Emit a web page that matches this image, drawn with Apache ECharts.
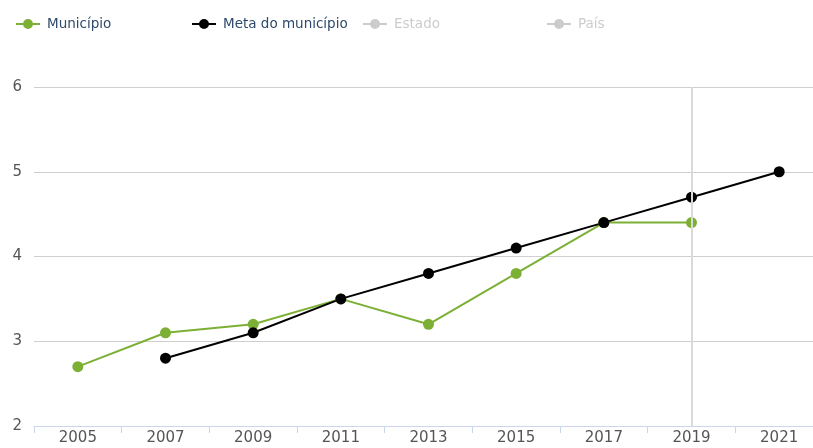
<!DOCTYPE html>
<html>
<head>
<meta charset="utf-8">
<script src="https://cdn.jsdelivr.net/npm/echarts@6/dist/echarts.min.js"></script>
<style>
  html, body { margin: 0; padding: 0; background: #fff; }
  #chart { width: 813px; height: 448px; }
</style>
</head>
<body>
<div id="chart"></div>
<script>
var anos = ['2005', '2007', '2009', '2011', '2013', '2015', '2017', '2019', '2021']
var municipio = [2.7, 3.1, 3.2, 3.5, 3.2, 3.8, 4.4, 4.4, null]
var metaMunicipio = [null, 2.8, 3.1, 3.5, 3.8, 4.1, 4.4, 4.7, 5.0]
var estado = []
var pais = []
var yTicks = [2, 3, 4, 5, 6]

var fonte = '"DejaVu Sans", sans-serif'
// linha com bolinha no meio, como no original
var iconeLinha = 'path://M0,4H24V6H0Z M7,5A5,5 0 1,1 17,5A5,5 0 1,1 7,5Z'

function legenda(nome, x) {
  return {
    data: [nome],
    left: x,
    top: 17,
    padding: 0,
    itemWidth: 24,
    itemHeight: 10,
    itemGap: 0,
    icon: iconeLinha,
    inactiveColor: '#cccccc',
    textStyle: { color: '#2e4a6b', fontSize: 13.5, fontFamily: fonte, padding: [0, 0, 0, 2] },
    selected: { 'Estado': false, 'País': false }
  }
}

function serie(nome, dados, cor) {
  return {
    name: nome,
    type: 'line',
    data: dados,
    symbol: 'circle',
    symbolSize: 11,
    connectNulls: false,
    lineStyle: { color: cor, width: 2 },
    itemStyle: { color: cor },
    emphasis: { disabled: true }
  }
}

var ele = document.getElementById('chart')
var myChart = echarts.init(ele, null, { renderer: 'canvas' })
var municipioSerie = serie('Município', municipio, '#7cb035')
municipioSerie.markLine = {
  silent: true,
  symbol: 'none',
  label: { show: false },
  lineStyle: { color: '#dadada', type: 'solid', width: 2 },
  data: [{ xAxis: '2019' }]
}

var option = {
  animation: false,
  legend: [
    legenda('Município', 16),
    legenda('Meta do município', 192),
    legenda('Estado', 363),
    legenda('País', 547)
  ],
  grid: { left: 34, width: 789, top: 87, bottom: 22, outerBoundsMode: 'none', containLabel: false },
  xAxis: {
    type: 'category',
    data: anos,
    boundaryGap: true,
    axisLine: { lineStyle: { color: '#ccd6eb', width: 1 } },
    axisTick: { show: true, length: 7, lineStyle: { color: '#ccd6eb' } },
    axisLabel: { color: '#555555', fontSize: 15, fontFamily: fonte, margin: 5 },
    splitLine: { show: false }
  },
  yAxis: {
    type: 'value',
    min: yTicks[0],
    max: yTicks[yTicks.length - 1],
    interval: 1,
    axisLine: { show: false },
    axisTick: { show: false },
    axisLabel: { color: '#555555', fontSize: 15, fontFamily: fonte, margin: 12, verticalAlign: 'middle' },
    splitLine: { lineStyle: { color: '#cfcfcf', width: 1 } }
  },
  series: [
    municipioSerie,
    serie('Meta do município', metaMunicipio, '#000000'),
    serie('Estado', estado, '#4f81bd'),
    serie('País', pais, '#c0504d')
  ]
}
myChart.setOption(option)
</script>
</body>
</html>
